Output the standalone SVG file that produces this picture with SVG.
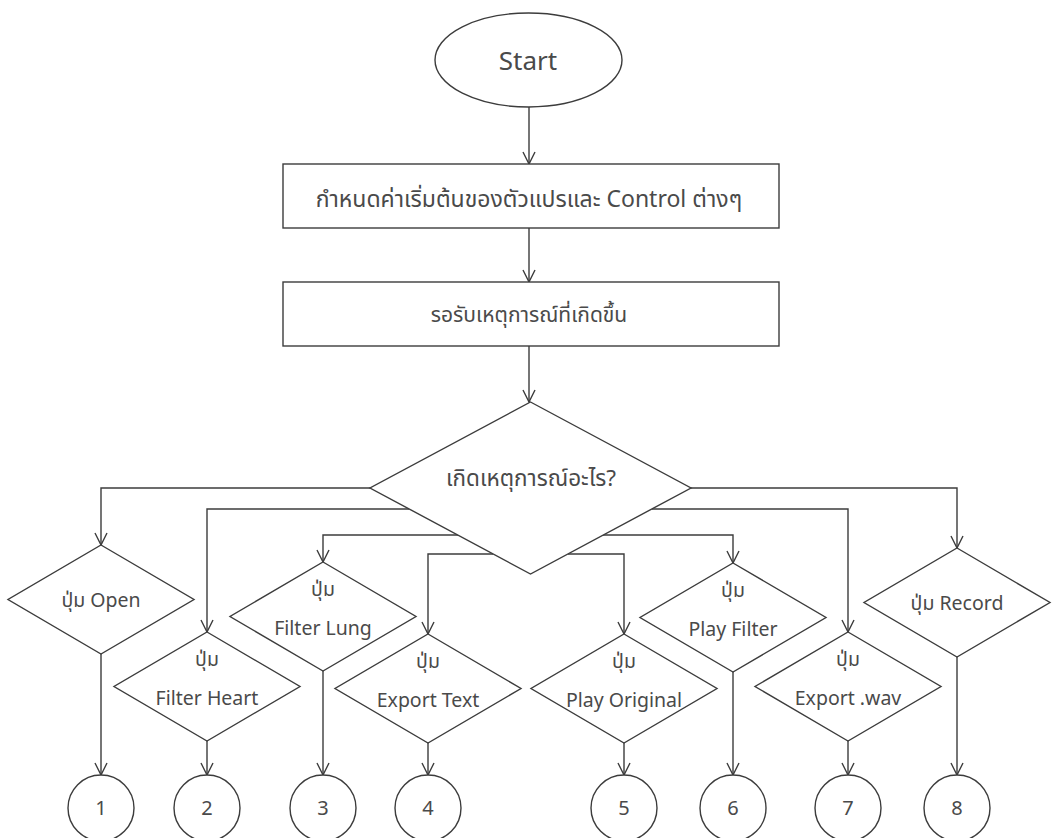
<svg xmlns="http://www.w3.org/2000/svg" width="1053" height="838" viewBox="0 0 1053 838">
<style>
.s{fill:#fff;stroke:#3c3c3c;stroke-width:1.4}
.c{fill:none;stroke:#3c3c3c;stroke-width:1.4}
text{font-family:"Noto Sans","Noto Sans Thai","Leelawadee UI",Tahoma,sans-serif;fill:#4a4a4a;text-anchor:middle}
.l{font-size:19.5px}
.n{font-size:20px}
</style>
<defs>
<marker id="arr" viewBox="-1 -8 14 16" refX="12" refY="0" markerWidth="14" markerHeight="16" markerUnits="userSpaceOnUse" orient="auto">
<path d="M0,-6 L12,0 L0,6" fill="none" stroke="#3c3c3c" stroke-width="1.4"/>
</marker>
</defs>
<rect width="1053" height="838" fill="#fff"/>
<g id="connectors" class="c" marker-end="url(#arr)">
<path d="M529,107 V164"/>
<path d="M529,228 V282"/>
<path d="M529,346 V402"/>
<path d="M370,488 H101 V545"/>
<path d="M409,509 H207 V632"/>
<path d="M458,535 H323 V562"/>
<path d="M493,554 H428 V634"/>
<path d="M568,554 H624 V634"/>
<path d="M603,535 H733 V563"/>
<path d="M652,509 H848 V632"/>
<path d="M691,488 H957 V548"/>
<path d="M101,654 V775"/>
<path d="M207,741 V775"/>
<path d="M323,671 V775"/>
<path d="M428,743 V775"/>
<path d="M624,743 V775"/>
<path d="M733,672 V775"/>
<path d="M848,741 V775"/>
<path d="M957,657 V775"/>
</g>
<g id="start"><ellipse class="s" cx="528.5" cy="60" rx="93.5" ry="47"/><text x="528" y="70" style="font-size:26px">Start</text></g>
<g id="init"><rect class="s" x="283" y="164" width="496" height="64"/><text x="529" y="207" style="font-size:23px">กำหนดค่าเริ่มต้นของตัวแปรและ Control ต่างๆ</text></g>
<g id="wait"><rect class="s" x="283" y="282" width="496" height="64"/><text x="529" y="322" style="font-size:21px">รอรับเหตุการณ์ที่เกิดขึ้น</text></g>
<g id="decision"><polygon class="s" points="530.5,402 691,488 530.5,574 370,488"/><text x="531" y="486" style="font-size:22.5px">เกิดเหตุการณ์อะไร?</text></g>
<g id="d1"><polygon class="s" points="101,545 194,599.5 101,654 8,599.5"/><text class="l" x="101" y="607">ปุ่ม Open</text></g>
<g id="d2"><polygon class="s" points="207,632 300,686.5 207,741 114,686.5"/><text class="l" x="207" y="666">ปุ่ม</text><text class="l" x="207" y="705">Filter Heart</text></g>
<g id="d3"><polygon class="s" points="323,562 416,616.5 323,671 230,616.5"/><text class="l" x="323" y="596">ปุ่ม</text><text class="l" x="323" y="635">Filter Lung</text></g>
<g id="d4"><polygon class="s" points="428,634 521,688.5 428,743 335,688.5"/><text class="l" x="428" y="668">ปุ่ม</text><text class="l" x="428" y="707">Export Text</text></g>
<g id="d5"><polygon class="s" points="624,634 717,688.5 624,743 531,688.5"/><text class="l" x="624" y="668">ปุ่ม</text><text class="l" x="624" y="707">Play Original</text></g>
<g id="d6"><polygon class="s" points="733,563 826,617.5 733,672 640,617.5"/><text class="l" x="733" y="597">ปุ่ม</text><text class="l" x="733" y="636">Play Filter</text></g>
<g id="d7"><polygon class="s" points="848,632 941,686.5 848,741 755,686.5"/><text class="l" x="848" y="666">ปุ่ม</text><text class="l" x="848" y="705">Export .wav</text></g>
<g id="d8"><polygon class="s" points="957,548 1050,602.5 957,657 864,602.5"/><text class="l" x="957" y="610">ปุ่ม Record</text></g>
<g id="c1"><circle class="s" cx="101" cy="808" r="33"/><text class="n" x="101" y="815">1</text></g>
<g id="c2"><circle class="s" cx="207" cy="808" r="33"/><text class="n" x="207" y="815">2</text></g>
<g id="c3"><circle class="s" cx="323" cy="808" r="33"/><text class="n" x="323" y="815">3</text></g>
<g id="c4"><circle class="s" cx="428" cy="808" r="33"/><text class="n" x="428" y="815">4</text></g>
<g id="c5"><circle class="s" cx="624" cy="808" r="33"/><text class="n" x="624" y="815">5</text></g>
<g id="c6"><circle class="s" cx="733" cy="808" r="33"/><text class="n" x="733" y="815">6</text></g>
<g id="c7"><circle class="s" cx="848" cy="808" r="33"/><text class="n" x="848" y="815">7</text></g>
<g id="c8"><circle class="s" cx="957" cy="808" r="33"/><text class="n" x="957" y="815">8</text></g>
</svg>
